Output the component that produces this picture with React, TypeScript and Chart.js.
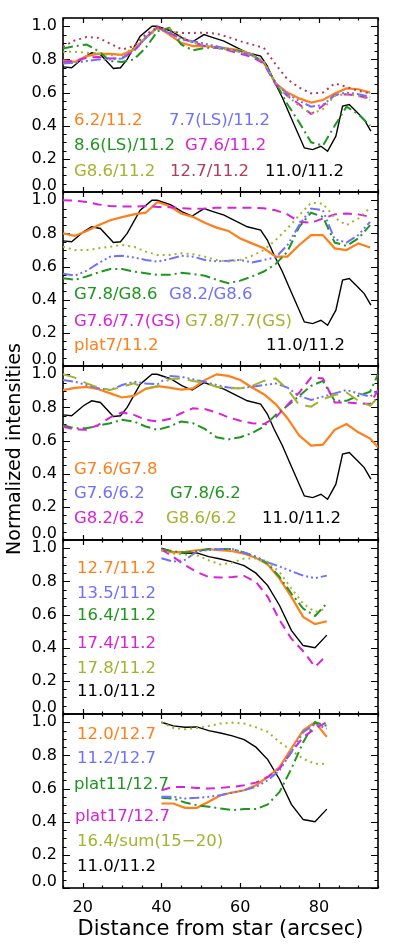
import React, { useEffect, useRef } from 'react';
import { Chart, registerables } from 'chart.js';

Chart.register(...registerables);

// ---------- layout constants ----------
const W = 393;
const H = 945;
const PLOT_LEFT = 63;
const PLOT_RIGHT = 378;
const PANEL_TOP0 = 18;
const PANEL_H = 174;
const X_AXIS_H = 55;
const FONT = '"DejaVu Sans", sans-serif';

// ---------- axis ranges / ticks ----------
const X_MIN = 15;
const X_MAX = 95;
const Y_MIN = 0;
const Y_MAX = 1.05;
const xTickLabels = [20, 40, 60, 80];
const yTickLabels = [0, 0.2, 0.4, 0.6, 0.8, 1.0];

// ---------- colours / styles ----------
const ORANGE = '#ff7f1a';
const BLUE = '#7070ff';
const GREEN = '#1f961f';
const MAGENTA = '#d822d8';
const OLIVE = '#a5b22e';
const CRIMSON = '#b03d5c';
const BLACK = '#000000';

const SOLID: number[] = [];
const DASH = [9, 6];
const DASHDOT = [10, 4, 2, 4];
const DASH3DOT = [10, 3, 2, 3, 2, 3, 2, 3];
const DOT = [2, 4];
const LONGDASH = [14, 8];

// ---------- data: x grids ----------
const xGrid = [15, 18, 21, 24, 27, 30, 33, 36, 39, 42, 45, 48, 51, 54, 57, 60, 63, 66, 69, 72, 75, 78, 81, 84, 87, 90, 93];
const xGridP3 = [15, 18, 21, 24, 27, 30, 33, 36, 39, 42, 45, 48, 51, 54, 57, 60, 63, 66, 69, 72, 75, 78, 81, 84, 87, 90, 93, 95];
const xOuter = [40, 43, 46, 49, 52, 55, 58, 61, 64, 67, 70, 73, 76, 79, 82];

// 11.0/11.2 (panels 1-3)
const blackX = [15, 17.2, 20.2, 22.3, 24.5, 27.8, 29.6, 31.3, 34.6, 37.6, 38.9, 42.3, 45.3, 47.8, 50.8, 53.3, 55.9, 58.4, 61.8, 65.2, 66.9, 68.6, 70.7, 72.9, 76.3, 78.4, 80.5, 82.2, 84.3, 86.0, 87.7, 89.8, 91.5, 93.2];
const blackY = [0.755, 0.75, 0.81, 0.84, 0.83, 0.745, 0.75, 0.8, 0.94, 1.0, 1.0, 0.973, 0.93, 0.905, 0.95, 0.93, 0.91, 0.88, 0.84, 0.82, 0.76, 0.67, 0.57, 0.45, 0.266, 0.256, 0.276, 0.246, 0.337, 0.518, 0.528, 0.478, 0.437, 0.367];
// 11.0/11.2 (panels 4-5)
const blackOuter = [1.0, 0.978, 0.97, 0.972, 0.95, 0.935, 0.918, 0.895, 0.85, 0.775, 0.655, 0.505, 0.413, 0.4, 0.476];

// panel 1
const p1_62 = [0.795, 0.785, 0.82, 0.835, 0.833, 0.828, 0.86, 0.93, 0.995, 0.95, 0.9, 0.88, 0.88, 0.875, 0.865, 0.855, 0.83, 0.78, 0.655, 0.6, 0.565, 0.54, 0.555, 0.595, 0.625, 0.62, 0.6];
const p1_77LS = [0.775, 0.78, 0.79, 0.8, 0.8, 0.805, 0.85, 0.93, 0.99, 0.96, 0.92, 0.91, 0.895, 0.88, 0.86, 0.845, 0.825, 0.78, 0.655, 0.59, 0.55, 0.515, 0.525, 0.585, 0.6, 0.59, 0.575];
const p1_86LS = [0.866, 0.88, 0.89, 0.85, 0.79, 0.785, 0.8, 0.87, 0.97, 0.99, 0.89, 0.855, 0.87, 0.87, 0.86, 0.85, 0.825, 0.785, 0.66, 0.53, 0.42, 0.3, 0.28, 0.4, 0.515, 0.47, 0.4];
const p1_G76 = [0.785, 0.79, 0.81, 0.815, 0.805, 0.81, 0.85, 0.93, 0.995, 0.96, 0.925, 0.905, 0.88, 0.87, 0.855, 0.835, 0.815, 0.775, 0.65, 0.58, 0.53, 0.47, 0.52, 0.585, 0.59, 0.58, 0.565];
const p1_G86 = [0.846, 0.846, 0.84, 0.835, 0.826, 0.83, 0.87, 0.93, 0.98, 0.985, 0.94, 0.9, 0.88, 0.87, 0.86, 0.845, 0.825, 0.79, 0.66, 0.58, 0.52, 0.47, 0.5, 0.58, 0.59, 0.58, 0.555];
const p1_127 = [0.876, 0.915, 0.935, 0.93, 0.895, 0.86, 0.88, 0.95, 0.995, 0.97, 0.96, 0.96, 0.962, 0.955, 0.935, 0.91, 0.89, 0.87, 0.77, 0.68, 0.63, 0.595, 0.6, 0.655, 0.635, 0.61, 0.595];

// panel 2
const p2_G78G86 = [0.53, 0.52, 0.54, 0.565, 0.585, 0.585, 0.57, 0.56, 0.55, 0.55, 0.562, 0.555, 0.545, 0.52, 0.5, 0.515, 0.54, 0.57, 0.615, 0.69, 0.84, 0.925, 0.9, 0.745, 0.725, 0.77, 0.85];
const p2_G82G86 = [0.557, 0.545, 0.575, 0.62, 0.66, 0.665, 0.655, 0.64, 0.63, 0.645, 0.665, 0.66, 0.64, 0.632, 0.635, 0.64, 0.625, 0.64, 0.655, 0.73, 0.85, 0.95, 0.94, 0.765, 0.745, 0.79, 0.87];
const p2_G76GS = [1.0, 0.998, 0.99, 0.975, 0.965, 0.962, 0.962, 0.965, 0.96, 0.958, 0.952, 0.948, 0.95, 0.955, 0.955, 0.955, 0.955, 0.952, 0.94, 0.915, 0.87, 0.865, 0.89, 0.915, 0.92, 0.915, 0.9];
const p2_G78GS = [0.72, 0.7, 0.7, 0.71, 0.72, 0.73, 0.72, 0.69, 0.67, 0.67, 0.68, 0.675, 0.66, 0.64, 0.63, 0.64, 0.665, 0.7, 0.76, 0.83, 0.91, 0.985, 0.98, 0.895, 0.85, 0.89, 0.955];
const p2_plat7 = [0.8, 0.785, 0.815, 0.85, 0.88, 0.898, 0.915, 0.925, 0.99, 0.965, 0.92, 0.9, 0.865, 0.835, 0.815, 0.77, 0.74, 0.71, 0.66, 0.66, 0.73, 0.79, 0.79, 0.71, 0.7, 0.74, 0.715];

// panel 3
const p3_G76G78 = [0.904, 0.918, 0.924, 0.91, 0.885, 0.86, 0.87, 0.912, 0.928, 0.92, 0.908, 0.915, 0.965, 1.0, 0.99, 0.965, 0.92, 0.88, 0.82, 0.735, 0.63, 0.57, 0.575, 0.665, 0.7, 0.65, 0.612, 0.56];
const p3_G7662 = [0.965, 0.955, 0.935, 0.915, 0.905, 0.935, 0.955, 0.945, 0.94, 0.99, 0.985, 0.97, 0.955, 0.935, 0.92, 0.915, 0.925, 0.935, 0.945, 0.92, 0.87, 0.845, 0.865, 0.885, 0.905, 0.885, 0.865, 0.905];
const p3_G7862 = [0.693, 0.675, 0.675, 0.69, 0.705, 0.725, 0.715, 0.685, 0.665, 0.685, 0.715, 0.705, 0.67, 0.62, 0.607, 0.62, 0.645, 0.685, 0.755, 0.81, 0.87, 0.93, 0.96, 0.84, 0.84, 0.87, 0.895, 1.0];
const p3_G8262 = [0.683, 0.668, 0.665, 0.695, 0.74, 0.77, 0.755, 0.725, 0.715, 0.73, 0.765, 0.795, 0.79, 0.77, 0.74, 0.72, 0.705, 0.7, 0.74, 0.815, 0.89, 0.98, 0.975, 0.83, 0.83, 0.825, 0.82, 0.905];
const p3_G8662 = [1.0, 0.98, 0.945, 0.92, 0.905, 0.925, 0.945, 0.915, 0.925, 0.97, 0.975, 0.96, 0.95, 0.925, 0.915, 0.915, 0.93, 0.96, 0.975, 0.91, 0.815, 0.805, 0.85, 0.875, 0.89, 0.84, 0.81, 0.86];

// panel 4
const p4_127 = [0.985, 0.975, 0.978, 0.988, 0.995, 0.988, 0.982, 0.968, 0.942, 0.902, 0.817, 0.707, 0.586, 0.542, 0.56];
const p4_135 = [0.94, 0.92, 0.93, 0.98, 0.99, 0.995, 0.995, 0.975, 0.95, 0.915, 0.89, 0.862, 0.835, 0.82, 0.835];
const p4_164 = [0.995, 0.982, 0.974, 0.982, 0.995, 0.995, 0.995, 0.974, 0.948, 0.908, 0.827, 0.727, 0.636, 0.592, 0.667];
const p4_174 = [0.995, 0.948, 0.898, 0.857, 0.827, 0.823, 0.827, 0.833, 0.797, 0.707, 0.566, 0.455, 0.379, 0.284, 0.354];
const p4_178 = [0.988, 0.968, 0.962, 0.958, 0.928, 0.902, 0.914, 0.938, 0.938, 0.918, 0.857, 0.757, 0.666, 0.616, 0.636];

// panel 5
const p5_120 = [0.51, 0.51, 0.484, 0.484, 0.52, 0.56, 0.576, 0.59, 0.62, 0.67, 0.73, 0.842, 0.952, 1.0, 0.912];
const p5_112 = [0.55, 0.55, 0.54, 0.544, 0.55, 0.56, 0.576, 0.59, 0.61, 0.65, 0.71, 0.82, 0.94, 0.99, 0.962];
const p5_plat11 = [0.544, 0.54, 0.516, 0.5, 0.49, 0.48, 0.47, 0.476, 0.476, 0.504, 0.58, 0.72, 0.88, 1.0, 0.978];
const p5_plat17 = [0.59, 0.61, 0.61, 0.604, 0.6, 0.604, 0.61, 0.62, 0.636, 0.67, 0.72, 0.82, 0.91, 0.962, 1.0];
const p5_164sum = [1.0, 0.966, 0.958, 0.966, 0.978, 0.992, 0.998, 0.992, 0.97, 0.942, 0.88, 0.83, 0.78, 0.75, 0.75];

// ---------- panel definitions ----------
type Series = { label: string; color: string; dash: number[]; width: number; xs: number[]; ys: number[] };
type Note = { text: string; color: string; left: number; dy: number };
type Panel = { series: Series[]; notes: Note[] };

const blk = (xs: number[], ys: number[]): Series => ({ label: '11.0/11.2', color: BLACK, dash: SOLID, width: 1.4, xs, ys });

const PANELS: Panel[] = [
  {
    series: [
      { label: '12.7/11.2', color: CRIMSON, dash: DOT, width: 2, xs: xGrid, ys: p1_127 },
      { label: 'G8.6/11.2', color: OLIVE, dash: DOT, width: 2, xs: xGrid, ys: p1_G86 },
      { label: '7.7(LS)/11.2', color: BLUE, dash: DASH3DOT, width: 2, xs: xGrid, ys: p1_77LS },
      { label: 'G7.6/11.2', color: MAGENTA, dash: DASH, width: 2, xs: xGrid, ys: p1_G76 },
      { label: '8.6(LS)/11.2', color: GREEN, dash: DASHDOT, width: 2, xs: xGrid, ys: p1_86LS },
      { label: '6.2/11.2', color: ORANGE, dash: SOLID, width: 2.2, xs: xGrid, ys: p1_62 },
      blk(blackX, blackY),
    ],
    notes: [
      { text: '6.2/11.2', color: ORANGE, left: 11, dy: 103 },
      { text: '7.7(LS)/11.2', color: BLUE, left: 106, dy: 103 },
      { text: '8.6(LS)/11.2', color: GREEN, left: 11, dy: 128 },
      { text: 'G7.6/11.2', color: MAGENTA, left: 122, dy: 128 },
      { text: 'G8.6/11.2', color: OLIVE, left: 11, dy: 154 },
      { text: '12.7/11.2', color: CRIMSON, left: 107, dy: 154 },
      { text: '11.0/11.2', color: BLACK, left: 202, dy: 154 },
    ],
  },
  {
    series: [
      { label: 'G7.8/7.7(GS)', color: OLIVE, dash: DOT, width: 2, xs: xGrid, ys: p2_G78GS },
      { label: 'G8.2/G8.6', color: BLUE, dash: DASH3DOT, width: 2, xs: xGrid, ys: p2_G82G86 },
      { label: 'G7.8/G8.6', color: GREEN, dash: DASHDOT, width: 2, xs: xGrid, ys: p2_G78G86 },
      { label: 'G7.6/7.7(GS)', color: MAGENTA, dash: DASH, width: 2, xs: xGrid, ys: p2_G76GS },
      { label: 'plat7/11.2', color: ORANGE, dash: SOLID, width: 2.2, xs: xGrid, ys: p2_plat7 },
      blk(blackX, blackY),
    ],
    notes: [
      { text: 'G7.8/G8.6', color: GREEN, left: 11, dy: 103 },
      { text: 'G8.2/G8.6', color: BLUE, left: 106, dy: 103 },
      { text: 'G7.6/7.7(GS)', color: MAGENTA, left: 11, dy: 130 },
      { text: 'G7.8/7.7(GS)', color: OLIVE, left: 122, dy: 130 },
      { text: 'plat7/11.2', color: ORANGE, left: 11, dy: 154 },
      { text: '11.0/11.2', color: BLACK, left: 203, dy: 154 },
    ],
  },
  {
    series: [
      { label: 'G8.6/6.2', color: OLIVE, dash: LONGDASH, width: 2, xs: xGridP3, ys: p3_G8662 },
      { label: 'G7.6/6.2', color: BLUE, dash: DASH3DOT, width: 2, xs: xGridP3, ys: p3_G7662 },
      { label: 'G8.2/6.2', color: MAGENTA, dash: DASH, width: 2, xs: xGridP3, ys: p3_G8262 },
      { label: 'G7.8/6.2', color: GREEN, dash: DASHDOT, width: 2, xs: xGridP3, ys: p3_G7862 },
      { label: 'G7.6/G7.8', color: ORANGE, dash: SOLID, width: 2.2, xs: xGridP3, ys: p3_G76G78 },
      blk(blackX, blackY),
    ],
    notes: [
      { text: 'G7.6/G7.8', color: ORANGE, left: 11, dy: 103.5 },
      { text: 'G7.6/6.2', color: BLUE, left: 11, dy: 127.5 },
      { text: 'G7.8/6.2', color: GREEN, left: 107, dy: 127.5 },
      { text: 'G8.2/6.2', color: MAGENTA, left: 11, dy: 152.5 },
      { text: 'G8.6/6.2', color: OLIVE, left: 103, dy: 152.5 },
      { text: '11.0/11.2', color: BLACK, left: 199, dy: 152.5 },
    ],
  },
  {
    series: [
      { label: '17.8/11.2', color: OLIVE, dash: DOT, width: 2, xs: xOuter, ys: p4_178 },
      { label: '13.5/11.2', color: BLUE, dash: DASH3DOT, width: 2, xs: xOuter, ys: p4_135 },
      { label: '17.4/11.2', color: MAGENTA, dash: DASH, width: 2, xs: xOuter, ys: p4_174 },
      { label: '16.4/11.2', color: GREEN, dash: DASHDOT, width: 2, xs: xOuter, ys: p4_164 },
      { label: '12.7/11.2', color: ORANGE, dash: SOLID, width: 2.2, xs: xOuter, ys: p4_127 },
      blk(xOuter, blackOuter),
    ],
    notes: [
      { text: '12.7/11.2', color: ORANGE, left: 14, dy: 28.3 },
      { text: '13.5/11.2', color: BLUE, left: 14, dy: 53.3 },
      { text: '16.4/11.2', color: GREEN, left: 14, dy: 76 },
      { text: '17.4/11.2', color: MAGENTA, left: 14, dy: 103.3 },
      { text: '17.8/11.2', color: OLIVE, left: 14, dy: 128.3 },
      { text: '11.0/11.2', color: BLACK, left: 14, dy: 151.7 },
    ],
  },
  {
    series: [
      { label: '16.4/sum(15-20)', color: OLIVE, dash: DOT, width: 2, xs: xOuter, ys: p5_164sum },
      { label: '11.2/12.7', color: BLUE, dash: DASH3DOT, width: 2, xs: xOuter, ys: p5_112 },
      { label: 'plat17/12.7', color: MAGENTA, dash: DASH, width: 2, xs: xOuter, ys: p5_plat17 },
      { label: 'plat11/12.7', color: GREEN, dash: DASHDOT, width: 2, xs: xOuter, ys: p5_plat11 },
      { label: '12.0/12.7', color: ORANGE, dash: SOLID, width: 2.2, xs: xOuter, ys: p5_120 },
      blk(xOuter, blackOuter),
    ],
    notes: [
      { text: '12.0/12.7', color: ORANGE, left: 14, dy: 20.3 },
      { text: '11.2/12.7', color: BLUE, left: 14, dy: 44.3 },
      { text: 'plat11/12.7', color: GREEN, left: 11, dy: 71 },
      { text: 'plat17/12.7', color: MAGENTA, left: 12, dy: 102.7 },
      { text: '16.4/sum(15\u221220)', color: OLIVE, left: 14, dy: 127.7 },
      { text: '11.0/11.2', color: BLACK, left: 14, dy: 152.7 },
    ],
  },
];

const Y_TITLE = 'Normalized intensities';
const X_TITLE = 'Distance from star (arcsec)';

function decorPlugin(panel: Panel, idx: number) {
  return {
    id: 'decor' + idx,
    beforeDatasetsDraw(chart: any) {
      const { ctx, chartArea: a, scales } = chart;
      const x = scales.x;
      const y = scales.y;
      ctx.save();
      ctx.strokeStyle = '#000';
      ctx.lineWidth = 1.2;
      ctx.beginPath();
      for (let k = 0; k * 5 + X_MIN <= X_MAX; k++) {
        const v = X_MIN + k * 5;
        const px = Math.round(x.getPixelForValue(v)) + 0.5;
        const len = v % 20 === 0 ? 5 : 2.5;
        ctx.moveTo(px, a.bottom);
        ctx.lineTo(px, a.bottom - len);
        ctx.moveTo(px, a.top);
        ctx.lineTo(px, a.top + len);
      }
      for (let k = 0; k <= 20; k++) {
        const v = k * 0.05;
        const py = Math.round(y.getPixelForValue(v)) + 0.5;
        const len = k % 4 === 0 ? 7 : 3.5;
        ctx.moveTo(a.left, py);
        ctx.lineTo(a.left + len, py);
        ctx.moveTo(a.right, py);
        ctx.lineTo(a.right - len, py);
      }
      ctx.stroke();
      ctx.lineWidth = 1.6;
      ctx.strokeRect(a.left, a.top, a.right - a.left, a.bottom - a.top);
      ctx.restore();
    },
    afterDraw(chart: any) {
      const { ctx, chartArea: a } = chart;
      ctx.save();
      ctx.font = '16.5px ' + FONT;
      ctx.textBaseline = 'middle';
      ctx.textAlign = 'left';
      for (const n of panel.notes) {
        ctx.fillStyle = n.color;
        ctx.fillText(n.text, a.left + n.left, a.top + n.dy);
      }
      if (idx === 2) {
        ctx.fillStyle = '#000';
        ctx.font = '19px ' + FONT;
        ctx.textAlign = 'center';
        ctx.translate(15, 449);
        ctx.rotate(-Math.PI / 2);
        ctx.fillText(Y_TITLE, 0, 0);
      }
      ctx.restore();
    },
  };
}

function makeChart(canvas: HTMLCanvasElement, panel: Panel, idx: number) {
  const top = PANEL_TOP0 + idx * PANEL_H;
  const bottom = top + PANEL_H;
  const showX = idx === PANELS.length - 1;
  const xAxisH = showX ? X_AXIS_H : 0;
  const padBottom = H - bottom - xAxisH;
  return new Chart(canvas, {
    type: 'line',
    data: {
      datasets: panel.series.map((s) => ({
        label: s.label,
        data: s.xs.map((xv, i) => ({ x: xv, y: s.ys[i] })),
        borderColor: s.color,
        backgroundColor: s.color,
        borderWidth: s.width,
        borderDash: s.dash,
        pointRadius: 0,
        fill: false,
        tension: 0,
      })),
    },
    options: {
      animation: false,
      responsive: false,
      maintainAspectRatio: false,
      devicePixelRatio: 1,
      events: [],
      layout: { padding: { left: 0, right: W - PLOT_RIGHT, top, bottom: padBottom } },
      plugins: { legend: { display: false }, tooltip: { enabled: false } },
      scales: {
        x: {
          type: 'linear',
          min: X_MIN,
          max: X_MAX,
          display: showX,
          position: 'bottom',
          grid: { display: false, drawTicks: false },
          border: { display: false },
          afterBuildTicks: (s: any) => {
            s.ticks = xTickLabels.map((v) => ({ value: v }));
          },
          afterFit: (s: any) => {
            s.height = xAxisH;
          },
          ticks: {
            font: { family: FONT, size: 16 },
            color: '#000',
            padding: 10,
            maxRotation: 0,
            autoSkip: false,
            callback: (v: any) => String(v),
          },
          title: {
            display: showX,
            text: X_TITLE,
            font: { family: FONT, size: 21 },
            color: '#000',
            padding: { top: 0, bottom: 1 },
          },
        },
        y: {
          type: 'linear',
          min: Y_MIN,
          max: Y_MAX,
          grid: { display: false, drawTicks: false },
          border: { display: false },
          afterBuildTicks: (s: any) => {
            s.ticks = yTickLabels.map((v) => ({ value: v }));
          },
          afterFit: (s: any) => {
            s.width = PLOT_LEFT;
          },
          ticks: {
            color: '#000',
            padding: 6,
            autoSkip: false,
            font: (c: any) => ({
              family: FONT,
              size: 16,
              lineHeight: c.tick && c.tick.value === 0 ? 0.72 : 1.2,
            }),
            callback: (v: any) => (Number(v) === 0 ? ['0.0', ''] : Number(v).toFixed(1)),
          },
        },
      },
    } as any,
    plugins: [decorPlugin(panel, idx)],
  });
}

export default function App() {
  const refs = useRef<(HTMLCanvasElement | null)[]>([]);
  useEffect(() => {
    const charts = PANELS.map((p, i) => makeChart(refs.current[i] as HTMLCanvasElement, p, i));
    return () => charts.forEach((c) => c.destroy());
  }, []);
  return (
    <div style={{ position: 'absolute', left: 0, top: 0, width: W, height: H, background: '#fff', overflow: 'hidden' }}>
      {PANELS.map((_, i) => (
        <canvas
          key={i}
          ref={(el) => {
            refs.current[i] = el;
          }}
          width={W}
          height={H}
          style={{ position: 'absolute', left: 0, top: 0, width: W, height: H }}
        />
      ))}
    </div>
  );
}
